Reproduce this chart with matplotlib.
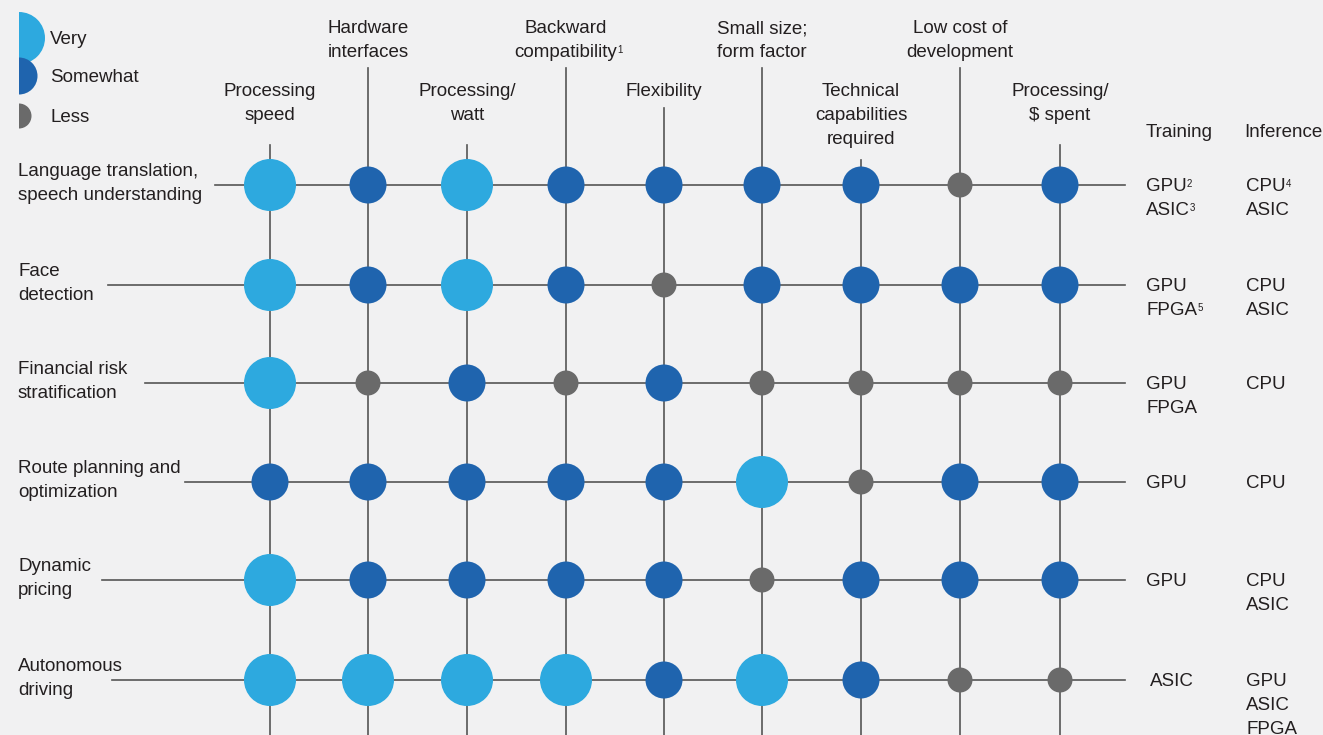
import matplotlib.pyplot as plt
from matplotlib.patches import Circle, Wedge

plt.rcParams['font.family'] = ['Liberation Sans', 'DejaVu Sans']

# data
columns = ["Processing\nspeed", "Hardware\ninterfaces", "Processing/\nwatt",
           "Backward\ncompatibility", "Flexibility", "Small size;\nform factor",
           "Technical\ncapabilities\nrequired", "Low cost of\ndevelopment",
           "Processing/\n$ spent"]
column_sup = ["", "", "", "1", "", "", "", "", ""]
rows = ["Language translation,\nspeech understanding", "Face\ndetection",
        "Financial risk\nstratification", "Route planning and\noptimization",
        "Dynamic\npricing", "Autonomous\ndriving"]
# V = very, S = somewhat, L = less
ratings = [
    "VSVSSSSLS",
    "VSVSLSSSS",
    "VLSLSLLLL",
    "SSSSSVLSS",
    "VSSSSLSSS",
    "VVVVSVSLL",
]
training = [[("GPU", "2"), ("ASIC", "3")], [("GPU", ""), ("FPGA", "5")],
            [("GPU", ""), ("FPGA", "")], [("GPU", "")], [("GPU", "")], [("ASIC", "")]]
inference = [[("CPU", "4"), ("ASIC", "")], [("CPU", ""), ("ASIC", "")],
             [("CPU", "")], [("CPU", "")], [("CPU", ""), ("ASIC", "")],
             [("GPU", ""), ("ASIC", ""), ("FPGA", "")]]
legend_labels = ["Very", "Somewhat", "Less"]

# layout
W, H = 1323, 735
col_x = [270, 368, 467, 566, 664, 762, 861, 960, 1060]
row_y = [185, 285, 383, 482, 580, 680]
col_head_y = [90, 27, 90, 27, 90, 27, 90, 27, 90]
col_line_top = [145, 68, 145, 68, 108, 68, 160, 68, 145]
row_line_left = [215, 108, 145, 185, 102, 112]
line_right = 1125
LS = 24  # px between text lines
DY = 1.5  # optical nudge for va=center
style = {"V": ("#2da9df", 26), "S": ("#1f64ae", 18.5), "L": ("#6a6a6a", 12.5)}
bg = "#f1f1f2"
txt = "#231f20"
line_c = "#555555"
fs = 13.5
sfs = 7

fig = plt.figure(figsize=(W / 100, H / 100), dpi=100, facecolor=bg)
ax = fig.add_axes([0, 0, 1, 1])
ax.set_xlim(0, W)
ax.set_ylim(H, 0)
ax.set_aspect("equal")
ax.axis("off")


def put(x, y, s, sup="", ha="left"):
    t = ax.text(x, y + DY, s, ha=ha, va="center", fontsize=fs, color=txt)
    if sup:
        ax.annotate(sup, xy=(1, 0.93), xycoords=t, xytext=(0.2, 0),
                    textcoords="offset points", fontsize=sfs, color=txt,
                    ha="left", va="top")
    return t


for x, top in zip(col_x, col_line_top):
    ax.plot([x, x], [top, H], color=line_c, lw=1.2, zorder=1)
for y, left in zip(row_y, row_line_left):
    ax.plot([left, line_right], [y, y], color=line_c, lw=1.2, zorder=1)

for i, r in enumerate(ratings):
    for j, c in enumerate(r):
        color, rad = style[c]
        ax.add_patch(Circle((col_x[j], row_y[i]), rad, color=color, lw=0, zorder=2))

# column headers
for j, (label, sup) in enumerate(zip(columns, column_sup)):
    lines = label.split("\n")
    for k, ln in enumerate(lines):
        put(col_x[j], col_head_y[j] + k * LS, ln,
            sup if k == len(lines) - 1 else "", ha="center")

# row labels
for i, label in enumerate(rows):
    for k, ln in enumerate(label.split("\n")):
        put(18, row_y[i] - 15 + k * LS, ln)

put(1146, 131, "Training")
put(1244, 131, "Inference")

for i in range(len(rows)):
    x_tr = 1150 if i == 5 else 1146
    for k, (name, sup) in enumerate(training[i]):
        put(x_tr, row_y[i] + k * LS, name, sup)
    for k, (name, sup) in enumerate(inference[i]):
        put(1246, row_y[i] + k * LS, name, sup)

# legend: half discs on the left edge
leg_y = [38, 76, 116]
for lab, key, y in zip(legend_labels, "VSL", leg_y):
    color, rad = style[key]
    ax.add_patch(Wedge((19, y), rad, -90, 90, color=color, lw=0))
    put(50, y, lab)

fig.savefig("out.png", dpi=100, facecolor=bg)
